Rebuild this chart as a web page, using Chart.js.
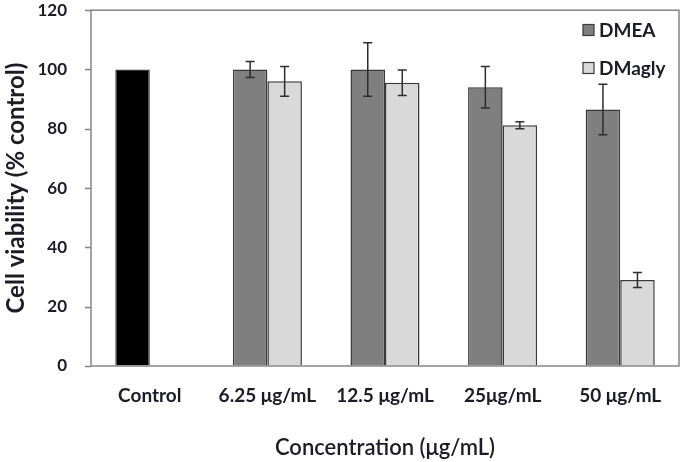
<!DOCTYPE html>
<html>
<head>
<meta charset="utf-8">
<script src="https://cdn.jsdelivr.net/npm/chart.js@4/dist/chart.umd.min.js"></script>
<style>
  html, body { margin: 0; padding: 0; background: #ffffff; }
  #wrap { width: 683px; height: 462px; }
</style>
</head>
<body>
<div id="wrap"><canvas id="c" width="683" height="462"></canvas></div>
<script>
const categories = ["Control", "6.25 μg/mL", "12.5 μg/mL", "25μg/mL", "50 μg/mL"];
const dmeaValues = [100, 100, 100, 94, 86.5];
const dmeaErrors = [0, 2.7, 9, 7, 8.5];
const dmaglyValues = [null, 96, 95.5, 81.2, 29];
const dmaglyErrors = [null, 5, 4.3, 1.2, 2.5];
const yTicks = [0, 20, 40, 60, 80, 100, 120];
const seriesNames = ["DMEA", "DMagly"];

const FONT = "Lato, 'Open Sans', sans-serif";
const TEXT = "#1c1c26";
const AXIS = "#858585";
const DMEA_FILL = "#7f7f7f";
const DMAGLY_FILL = "#d9d9d9";
const CONTROL_FILL = "#000000";

const errorData = [dmeaErrors, dmaglyErrors];

const errorBarPlugin = {
  id: "errorBars",
  afterDatasetsDraw(chart) {
    const ctx = chart.ctx;
    const y = chart.scales.y;
    ctx.save();
    ctx.strokeStyle = "#2e2e2e";
    ctx.lineWidth = 1.5;
    chart.data.datasets.forEach((ds, d) => {
      const meta = chart.getDatasetMeta(d);
      ds.data.forEach((v, i) => {
        const e = errorData[d][i];
        if (v === null || e === null || e === undefined || e === 0) return;
        const x = meta.data[i].x;
        const yt = y.getPixelForValue(v + e);
        const yb = y.getPixelForValue(v - e);
        const cap = 4.5;
        ctx.beginPath();
        ctx.moveTo(x, yt); ctx.lineTo(x, yb);
        ctx.moveTo(x - cap, yt); ctx.lineTo(x + cap, yt);
        ctx.moveTo(x - cap, yb); ctx.lineTo(x + cap, yb);
        ctx.stroke();
      });
    });
    ctx.restore();
  }
};

const framePlugin = {
  id: "frame",
  afterDatasetsDraw(chart) {
    const {left, right, top, bottom} = chart.chartArea;
    const ctx = chart.ctx;
    const y = chart.scales.y;
    ctx.save();
    ctx.strokeStyle = AXIS;
    ctx.lineWidth = 1.5;
    ctx.strokeRect(left, top, right - left, bottom - top);
    ctx.beginPath();
    y.ticks.forEach(t => {
      const py = Math.round(y.getPixelForValue(t.value)) + 0.5;
      ctx.moveTo(left - 6, py);
      ctx.lineTo(left, py);
    });
    ctx.stroke();
    ctx.restore();
  }
};

const legendPlugin = {
  id: "insideLegend",
  afterDraw(chart) {
    const ctx = chart.ctx;
    const fills = [DMEA_FILL, DMAGLY_FILL];
    const ys = [30, 68];
    ctx.save();
    ctx.font = "bold 19px " + FONT;
    ctx.textBaseline = "middle";
    ctx.textAlign = "left";
    seriesNames.forEach((name, k) => {
      const bx = 583, by = ys[k] - 5.5;
      ctx.fillStyle = fills[k];
      ctx.fillRect(bx, by, 11, 11);
      ctx.strokeStyle = "#3a3a3a";
      ctx.lineWidth = 1.2;
      ctx.strokeRect(bx, by, 11, 11);
      ctx.fillStyle = TEXT;
      ctx.fillText(name, 599, ys[k] + 1);
    });
    ctx.restore();
  }
};

new Chart(document.getElementById("c"), {
  type: "bar",
  data: {
    labels: categories,
    datasets: [
      {
        label: seriesNames[0],
        data: dmeaValues,
        backgroundColor: dmeaValues.map((v, i) => i === 0 ? CONTROL_FILL : DMEA_FILL),
        borderColor: "#3a3a3a",
        borderWidth: 1.5,
        categoryPercentage: 0.587,
        barPercentage: 1.0
      },
      {
        label: seriesNames[1],
        data: dmaglyValues,
        backgroundColor: DMAGLY_FILL,
        borderColor: "#3a3a3a",
        borderWidth: 1.5,
        categoryPercentage: 0.587,
        barPercentage: 1.0
      }
    ]
  },
  options: {
    responsive: false,
    animation: false,
    devicePixelRatio: 1,
    layout: { padding: { left: 0, right: 4, top: 10, bottom: 0 } },
    plugins: {
      legend: { display: false },
      tooltip: { enabled: false }
    },
    scales: {
      x: {
        grid: { display: false, drawTicks: false },
        border: { display: false },
        ticks: {
          color: TEXT,
          font: { family: FONT, size: 19, weight: "bold" },
          padding: 18,
          maxRotation: 0,
          autoSkip: false
        },
        title: {
          display: true,
          text: "Concentration (μg/mL)",
          color: TEXT,
          font: { family: FONT, size: 22, weight: "600" },
          padding: { top: 4, bottom: 1 }
        },
        afterFit(scale) { scale.height = 96; }
      },
      y: {
        min: 0,
        max: 120,
        afterBuildTicks(scale) { scale.ticks = yTicks.map(v => ({ value: v })); },
        grid: { drawOnChartArea: false, drawTicks: true, tickLength: 24, tickColor: "rgba(0,0,0,0)", color: "rgba(0,0,0,0)" },
        border: { display: false },
        ticks: {
          color: TEXT,
          font: { family: FONT, size: 17, weight: "bold" },
          padding: 0
        },
        title: {
          display: true,
          text: "Cell viability (% control)",
          color: TEXT,
          font: { family: FONT, size: 24, weight: "bold" },
          padding: { top: 2, bottom: 0 }
        },
        afterFit(scale) { scale.width = 91; }
      }
    }
  },
  plugins: [errorBarPlugin, framePlugin, legendPlugin]
});
</script>
</body>
</html>
